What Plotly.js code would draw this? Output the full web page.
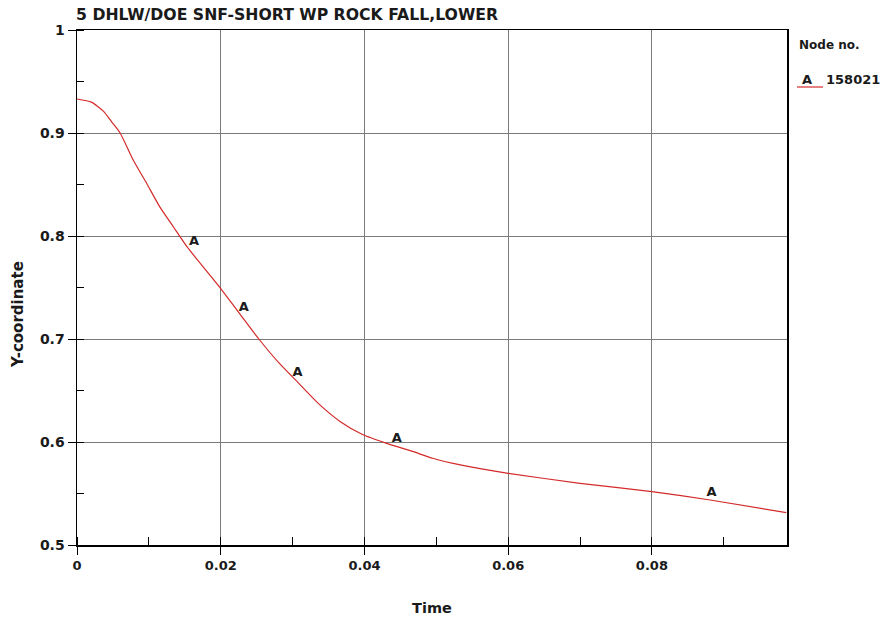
<!DOCTYPE html>
<html>
<head>
<meta charset="utf-8">
<script src="https://cdn.plot.ly/plotly-3.0.1.min.js"></script>
<style>html,body{margin:0;padding:0;background:#fff}#chart{width:886px;height:620px}</style>
</head>
<body>
<div id="chart"></div>
<script>
// Curve data (Time vs Y-coordinate)
const time = [0, 0.0020, 0.0037, 0.0048, 0.0060, 0.0078, 0.0097, 0.0115, 0.0134, 0.0153, 0.0200, 0.0228, 0.0253, 0.0282, 0.0310, 0.0338, 0.0366, 0.0398, 0.0431, 0.0468, 0.0495, 0.0535, 0.0600, 0.0700, 0.0800, 0.0881, 0.0987];
const ycoord = [0.933, 0.930, 0.921, 0.911, 0.900, 0.874, 0.851, 0.8285, 0.809, 0.7896, 0.749, 0.723, 0.700, 0.676, 0.656, 0.636, 0.620, 0.607, 0.5987, 0.5906, 0.5842, 0.5775, 0.5696, 0.5599, 0.5518, 0.5437, 0.5314];
// Marker "A" positions on the curve
const markTime = [0.0156, 0.0225, 0.0300, 0.0438, 0.0876];
const markY = [0.788, 0.724, 0.661, 0.597, 0.5445];
const nodeId = "158021";
const xTicks = [0, 0.02, 0.04, 0.06, 0.08];
const xTickText = ["0", "0.02", "0.04", "0.06", "0.08"];
const yTicks = [0.5, 0.6, 0.7, 0.8, 0.9, 1];
const yTickText = ["0.5", "0.6", "0.7", "0.8", "0.9", "1"];

const red = '#d42a2a';
const sans = '"DejaVu Sans", "Liberation Sans", Arial, sans-serif';
const ink = '#1a1a1a';

const traces = [
  {x: time, y: ycoord, mode: 'lines', line: {color: red, width: 1.2, shape: 'spline', smoothing: 0.6}, hoverinfo: 'skip'},
  {x: markTime, y: markY, mode: 'text', text: markTime.map(() => 'A'), textposition: 'top right',
   textfont: {family: sans, size: 13, weight: 'bold', color: ink}, hoverinfo: 'skip'}
];

const pl = 77, pr = 787, pt = 30, pb = 545;
const px = v => (v - pl) / (pr - pl);
const py = v => (pb - v) / (pb - pt);

const layout = {
  width: 886, height: 620,
  margin: {l: pl, r: 886 - pr, t: pt, b: 620 - pb},
  paper_bgcolor: '#fff', plot_bgcolor: '#fff',
  showlegend: false,
  title: {text: '5 DHLW/DOE SNF-SHORT WP ROCK FALL,LOWER', x: 76/886, xanchor: 'left', y: 1 - 15/620, yanchor: 'middle',
          font: {family: sans, size: 15.7, weight: 'bold', color: ink}},
  xaxis: {
    range: [0, 0.0988], tickvals: xTicks, ticktext: xTickText,
    showgrid: true, gridcolor: '#7a7a7a', gridwidth: 1,
    showline: true, linecolor: '#000', linewidth: 1.5, mirror: true,
    ticks: 'outside', ticklen: 8, tickcolor: '#000',
    minor: {dtick: 0.01, tick0: 0, ticks: 'inside', ticklen: 8, tickcolor: '#000', showgrid: false},
    zeroline: false,
    tickfont: {family: sans, size: 13, weight: 'bold', color: ink},
    title: {text: 'Time', font: {family: sans, size: 14.5, weight: 'bold', color: ink}, standoff: 31}
  },
  yaxis: {
    range: [0.5, 1], tickvals: yTicks, ticktext: yTickText,
    showgrid: true, gridcolor: '#7a7a7a', gridwidth: 1,
    showline: true, linecolor: '#000', linewidth: 1.5, mirror: true,
    ticks: 'outside', ticklen: 8, tickcolor: '#000',
    minor: {dtick: 0.05, tick0: 0.5, ticks: 'inside', ticklen: 7, tickcolor: '#000', showgrid: false},
    zeroline: false,
    tickfont: {family: sans, size: 14, weight: 'bold', color: ink}
  },
  shapes: [
    {type: 'line', xref: 'paper', yref: 'paper', x0: px(797), x1: px(823), y0: py(87), y1: py(87), line: {color: red, width: 1.2}}
  ],
  annotations: [
    {xref: 'paper', yref: 'paper', x: px(18), y: py(315), xanchor: 'center', yanchor: 'middle', showarrow: false, textangle: -90,
     text: 'Y-coordinate', font: {family: sans, size: 15, weight: 'bold', color: ink}},
    {xref: 'paper', yref: 'paper', x: px(797), y: py(45), xanchor: 'left', yanchor: 'middle', showarrow: false,
     text: 'Node no.', font: {family: sans, size: 12, weight: 'bold', color: ink}},
    {xref: 'paper', yref: 'paper', x: px(800), y: py(80), xanchor: 'left', yanchor: 'middle', showarrow: false,
     text: 'A', font: {family: sans, size: 13, weight: 'bold', color: ink}},
    {xref: 'paper', yref: 'paper', x: px(824), y: py(80), xanchor: 'left', yanchor: 'middle', showarrow: false,
     text: nodeId, font: {family: sans, size: 13, weight: 'bold', color: ink}}
  ]
};

Plotly.newPlot('chart', traces, layout, {staticPlot: true, displayModeBar: false});
</script>
</body>
</html>
